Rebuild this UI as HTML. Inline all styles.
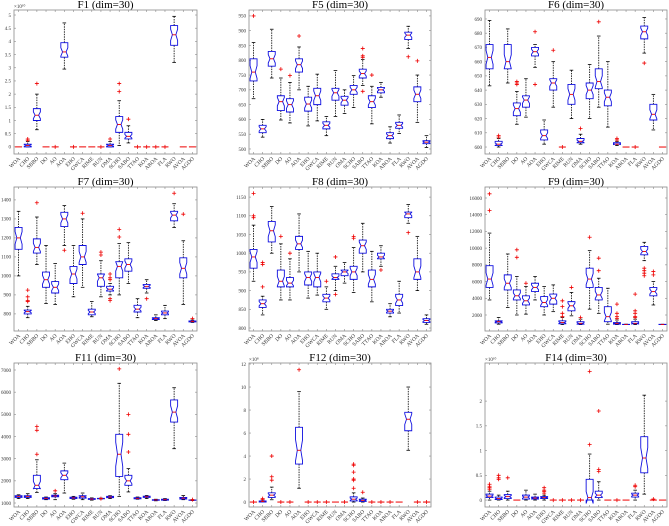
<!DOCTYPE html>
<html><head><meta charset="utf-8"><style>
html,body{margin:0;padding:0;background:#fff;}
svg{display:block;font-family:"Liberation Serif",serif;}
</style></head><body>
<svg id="chart" width="669" height="526" viewBox="0 0 669 526" xmlns="http://www.w3.org/2000/svg"></svg>
<script>
const categories = ["WOA","CHO","SBBO","DO","AO","AOA","EHO","GWCA","RIME","RUN","OMA","SCHO","SABO","TTAO","KOA","AROA","FLA","RWO","AVOA","AGDO"];

// stats rows: [lowWhisker, q1, median, q3, highWhisker]
const f1Stats = [[0,0,0,0,0],[0,0,0.05,0.1,0.2],[0.65,1.0,1.2,1.45,2.0],[0,0,0,0,0],[0,0,0,0,0],[2.95,3.4,3.6,3.95,4.7],[0,0,0,0,0],[0,0,0,0,0],[0,0,0,0,0],[0,0,0,0,0],[0,0,0.05,0.1,0.2],[0.05,0.55,0.85,1.15,1.75],[0.15,0.3,0.4,0.55,0.8],[0,0,0,0,0],[0,0,0,0,0],[0,0,0,0,0],[0,0,0,0,0],[3.2,3.85,4.25,4.6,4.95],[0,0,0,0,0],[0,0,0,0,0]];
const f1Outliers = [[],[0.3,0.25],[2.4],[],[0],[],[0],[],[],[0],[0.3],[2.1,2.4],[1.05],[0],[0],[0],[0],[],[],[]];
const f1Ticks = [0,0.5,1,1.5,2,2.5,3,3.5,4,4.5,5];

const f5Stats = [[670,730,760,805,860],[540,555,568,580,600],[740,780,805,830,905],[598,630,660,680,740],[588,625,650,670,725],[700,760,785,805,845],[578,628,652,675,712],[595,650,680,705,753],[545,568,580,592,610],[610,665,690,705,765],[620,648,665,678,700],[640,685,700,715,748],[715,740,755,770,803],[585,640,660,680,712],[675,690,700,708,725],[520,535,545,555,575],[552,570,580,590,615],[840,870,885,895,915],[590,660,685,710,750],[505,518,523,528,545]];
const f5Outliers = [[950],[],[],[770],[748],[882],[],[],[],[],[],[],[840,815,810,695],[750],[],[],[],[812],[798],[]];
const f5Ticks = [500,550,600,650,700,750,800,850,900,950];

const f6Stats = [[643,655,663,672,689],[600,601,602,604,606],[645,655,660,672,683],[616,622,627,631,639],[621,628,633,636,648],[656,664,667,670,672],[602,605,608,612,619],[628,640,645,648,660],[600,600,600,600,600],[620,630,637,644,654],[602,603,604,606,609],[620,634,640,645,658],[628,641,646,655,678],[614,629,635,640,660],[601,602,602,603,604],[600,600,600,600,600],[600,600,600,600,600],[666,676,681,685,691],[612,619,623,630,637],[600,600,600,600,600]];
const f6Outliers = [[],[607,608],[],[644,645,646],[],[681,644],[],[668],[600],[],[613],[],[688],[],[605,606],[],[600],[659],[],[]];
const f6Ticks = [600,610,620,630,640,650,660,670,680,690];

const f7Stats = [[1000,1140,1200,1255,1340],[780,800,812,820,840],[1060,1120,1150,1195,1310],[855,940,980,1020,1160],[850,910,940,970,1065],[1160,1260,1300,1335,1370],[890,960,1010,1050,1160],[940,1060,1100,1160,1300],[785,795,810,825,865],[890,945,990,1010,1080],[900,920,930,945,960],[900,990,1050,1075,1170],[960,1025,1060,1090,1175],[780,810,825,845,880],[910,935,945,955,980],[765,770,775,780,795],[775,795,805,815,845],[1255,1290,1320,1340,1380],[850,990,1040,1095,1185],[755,758,760,763,768]];
const f7Outliers = [[],[925,890,870,865],[1385],[],[],[1135],[],[1330],[],[1125,1110],[1010,990,980,870,880],[1245,1205],[],[],[880],[],[],[1435],[1325],[775]];
const f7Ticks = [800,900,1000,1100,1200,1300,1400];

const f8Stats = [[925,960,990,1010,1075],[835,855,865,875,885],[1000,1030,1060,1085,1125],[875,910,925,955,1025],[875,910,920,935,985],[950,1010,1025,1045,1105],[880,915,935,950,1005],[888,910,935,950,1000],[850,870,880,890,910],[900,930,935,945,965],[920,940,950,955,975],[895,930,950,965,1015],[950,1000,1020,1035,1080],[870,910,930,955,1005],[965,985,990,1000,1020],[830,840,845,850,865],[840,860,875,890,925],[1080,1095,1105,1110,1130],[900,930,950,985,1045],[810,815,820,825,835]];
const f8Outliers = [[1160,1100,1095],[975,970,910],[],[1045],[1000],[],[],[],[925],[990,890],[],[1045,1040],[],[],[955],[],[],[1055],[],[]];
const f8Ticks = [800,850,900,950,1000,1050,1100,1150];

const f9Stats = [[3800,5300,6300,7900,11800],[900,1050,1200,1300,1700],[2900,5000,5800,6800,9300],[2000,3800,4300,5000,6600],[2100,3200,3700,4300,5400],[3800,4800,5300,5800,6600],[2000,3000,3500,4200,5400],[2400,3300,4000,4500,5600],[850,950,1100,1300,1700],[1900,2500,3100,3600,4700],[850,900,1000,1200,1500],[2700,5300,6300,7600,9700],[2200,3800,4400,5300,6400],[900,1200,1800,3000,5200],[850,900,1000,1100,1400],[850,850,870,880,900],[850,950,1000,1200,1500],[8500,9200,9600,10200,10700],[3200,4300,4800,5300,6000],[850,860,870,880,890]];
const f9Outliers = [[16500,14500],[],[],[9800,8900],[5800],[],[],[],[3700,3000,2200,1800],[5300],[1700],[11300],[8800,7300],[],[3300,2200,1800,1600],[],[4500,2500,2200,1800,1700],[7600,7300,7000,6700],[7200,6800],[]];
const f9Ticks = [2000,4000,6000,8000,10000,12000,14000,16000];

const f11Stats = [[1200,1250,1300,1330,1370],[1200,1250,1300,1330,1420],[1480,1650,1800,2250,2950],[1150,1180,1210,1240,1270],[1150,1280,1320,1350,1420],[1450,2050,2250,2450,2800],[1170,1200,1230,1260,1300],[1150,1220,1280,1330,1450],[1130,1160,1180,1200,1230],[1180,1190,1200,1210,1220],[1200,1240,1270,1300,1330],[1300,2200,3200,4100,6400],[1500,1800,2000,2250,2550],[1170,1190,1210,1240,1270],[1200,1250,1280,1310,1340],[1100,1120,1140,1150,1170],[1110,1130,1150,1170,1200],[3450,4650,5100,5650,6200],[1150,1180,1220,1250,1340],[1110,1120,1130,1140,1150]];
const f11Outliers = [[],[],[4450,4280,3200],[],[1550],[],[],[],[],[1200],[],[7050],[5000,4100,3300],[],[],[],[],[],[],[1150]];
const f11Ticks = [1000,2000,3000,4000,5000,6000,7000];

const f12Stats = [[0,0,0,0,0],[0,0,0.05,0.1,0.2],[0.2,0.4,0.6,0.8,1.3],[0,0,0,0,0],[0,0,0,0,0],[1.2,3.3,4.5,6.5,9.6],[0,0,0,0,0],[0,0,0,0,0],[0,0,0,0,0],[0,0,0,0,0],[0,0,0,0,0],[0,0.1,0.25,0.45,0.8],[0,0.05,0.15,0.25,0.35],[0,0,0,0,0],[0,0,0,0,0],[0,0,0,0,0],[0,0,0,0,0],[4.5,6.2,7.2,7.8,10.0],[0,0,0,0,0],[0,0,0,0,0]];
const f12Outliers = [[0],[0.3,0.2],[4.0,2.2,1.9],[0],[0],[11.5],[0],[0],[0],[],[0],[3.3,3.2,2.6,2.0,1.9,1.2],[0.85],[0],[0],[0],[],[],[0],[0]];
const f12Ticks = [0,2,4,6,8,10,12];

const f14Stats = [[0,0.05,0.08,0.12,0.18],[0,0.01,0.03,0.06,0.1],[0,0.03,0.07,0.11,0.18],[0,0,0,0,0],[0,0.02,0.06,0.1,0.2],[0,0.02,0.04,0.06,0.12],[0,0.03,0.05,0.07,0.1],[0,0,0,0,0],[0,0,0,0,0],[0,0,0,0,0],[0,0,0,0,0],[0,0,0.05,0.42,0.93],[0,0.05,0.1,0.18,0.37],[0,0,0,0,0],[0,0,0,0,0],[0,0,0,0,0],[0,0.06,0.1,0.14,0.2],[0.12,0.55,0.85,1.28,2.12],[0,0,0,0,0],[0,0,0,0,0]];
const f14Outliers = [[0.32,0.28,0.25,0.22],[0.5,0.45,0.42],[0.45],[],[],[],[0.25,0.2,0.17,0.14],[0],[0],[0],[0],[2.6,1.12],[1.8,0.62,0.58],[],[0],[],[0.3,0.27],[],[0.02],[]];
const f14Ticks = [0,0.5,1,1.5,2];

const NS = "http://www.w3.org/2000/svg";
const svg = document.getElementById("chart");
function mk(tag, attrs, parent){
  const e = document.createElementNS(NS, tag);
  for (const k in attrs) e.setAttribute(k, attrs[k]);
  (parent||svg).appendChild(e);
  return e;
}
const colX = [[14,197],[249,431],[485,667]];
const rowY = [[10,154],[187,331],[363,507]];
const panels = [
  {id:"f1", title:"F1 (dim=30)", c:0, r:0, stats:f1Stats, out:f1Outliers, ticks:f1Ticks, ylim:[-0.27,5.19], exp:"×10¹⁰"},
  {id:"f5", title:"F5 (dim=30)", c:1, r:0, stats:f5Stats, out:f5Outliers, ticks:f5Ticks, ylim:[483,970]},
  {id:"f6", title:"F6 (dim=30)", c:2, r:0, stats:f6Stats, out:f6Outliers, ticks:f6Ticks, ylim:[595.1,696.3]},
  {id:"f7", title:"F7 (dim=30)", c:0, r:1, stats:f7Stats, out:f7Outliers, ticks:f7Ticks, ylim:[710,1468]},
  {id:"f8", title:"F8 (dim=30)", c:1, r:1, stats:f8Stats, out:f8Outliers, ticks:f8Ticks, ylim:[792,1177]},
  {id:"f9", title:"F9 (dim=30)", c:2, r:1, stats:f9Stats, out:f9Outliers, ticks:f9Ticks, ylim:[85,17316]},
  {id:"f11", title:"F11 (dim=30)", c:0, r:2, stats:f11Stats, out:f11Outliers, ticks:f11Ticks, ylim:[820,7316]},
  {id:"f12", title:"F12 (dim=30)", c:1, r:2, stats:f12Stats, out:f12Outliers, ticks:f12Ticks, ylim:[-0.43,12.09], exp:"×10⁸"},
  {id:"f14", title:"F14 (dim=30)", c:2, r:2, stats:f14Stats, out:f14Outliers, ticks:f14Ticks, ylim:[-0.14,2.77], exp:"×10¹⁰"}
];
panels.forEach(p => {
  const [x0,x1] = colX[p.c], [y0,y1] = rowY[p.r];
  const g = mk("g", {});
  
  
  const n = categories.length, step = (x1-x0)/n;
  const xs = i => x0 + step*(i+0.5);
  const ys = v => y1 - (v - p.ylim[0])/(p.ylim[1]-p.ylim[0])*(y1-y0);
  const t = mk("text", {x:(x0+x1)/2, y:y0-2, "text-anchor":"middle", "font-size":"11"}, g);
  t.textContent = p.title;
  
  
  const ax = mk("rect", {x:x0, y:y0, width:x1-x0, height:y1-y0, fill:"none", stroke:"#8a8a8a", "stroke-width":"0.8"}, g);
  
  
  if (p.exp) {
    const e = mk("text", {x:x0, y:y0-2, "font-size":"5", fill:"#333"}, g);
    e.textContent = p.exp;
    
    
  }
  p.ticks.forEach(tv => {
    const yy = ys(tv);
    mk("line", {x1:x0, x2:x0+2, y1:yy, y2:yy, stroke:"#8a8a8a", "stroke-width":"0.6"}, g);
    mk("line", {x1:x1, x2:x1-2, y1:yy, y2:yy, stroke:"#8a8a8a", "stroke-width":"0.6"}, g);
    const tl = mk("text", {x:x0-3, y:yy+1.8, "text-anchor":"end", "font-size":"5", fill:"#333"}, g);
    tl.textContent = String(tv);
    
    
  });
  categories.forEach((c, i) => {
    const x = xs(i);
    mk("line", {x1:x, x2:x, y1:y1, y2:y1-2, stroke:"#8a8a8a", "stroke-width":"0.6"}, g);
    mk("line", {x1:x, x2:x, y1:y0, y2:y0+2, stroke:"#8a8a8a", "stroke-width":"0.6"}, g);
    const xl = mk("text", {x:x+2, y:y1+5, "text-anchor":"end", "font-size":"5.5", fill:"#333", transform:`rotate(-45 ${x+2} ${y1+5})`}, g);
    xl.textContent = c;
    
    
    const [lo,q1,md,q3,hi] = p.stats[i];
    const bg = mk("g", {}, g);
    
    
    const w = 3.5;
    if (hi > lo) {
      mk("line", {x1:x, x2:x, y1:ys(q3), y2:ys(hi), stroke:"#000", "stroke-width":"0.8", "stroke-dasharray":"1.5,1"}, bg);
      mk("line", {x1:x, x2:x, y1:ys(q1), y2:ys(lo), stroke:"#000", "stroke-width":"0.8", "stroke-dasharray":"1.5,1"}, bg);
      mk("line", {x1:x-1.8, x2:x+1.8, y1:ys(hi), y2:ys(hi), stroke:"#000", "stroke-width":"0.8"}, bg);
      mk("line", {x1:x-1.8, x2:x+1.8, y1:ys(lo), y2:ys(lo), stroke:"#000", "stroke-width":"0.8"}, bg);
    }
    if (q3 > q1) {
      const nt = 1.57*(q3-q1)/Math.sqrt(30);
      const a = ys(q1), b = ys(md-nt), m = ys(md), d = ys(md+nt), e = ys(q3);
      const pts = [[x-w,a],[x-w,b],[x-w/2,m],[x-w,d],[x-w,e],[x+w,e],[x+w,d],[x+w/2,m],[x+w,b],[x+w,a]];
      mk("polygon", {points: pts.map(q=>q.join(",")).join(" "), fill:"none", stroke:"#1010e0", "stroke-width":"0.9"}, bg);
      mk("line", {x1:x-w/2, x2:x+w/2, y1:m, y2:m, stroke:"#e00", "stroke-width":"0.9"}, bg);
    } else {
      mk("line", {x1:x-w, x2:x+w, y1:ys(md), y2:ys(md), stroke:"#e00", "stroke-width":"1"}, bg);
    }
    p.out[i].forEach(o => {
      const oy = ys(o);
      const pg = mk("path", {d:`M${x-2} ${oy}H${x+2}M${x} ${oy-2}V${oy+2}`, stroke:"#e00", "stroke-width":"0.8", fill:"none"}, bg);
      
      
    });
  });
});
</script>
</body></html>
